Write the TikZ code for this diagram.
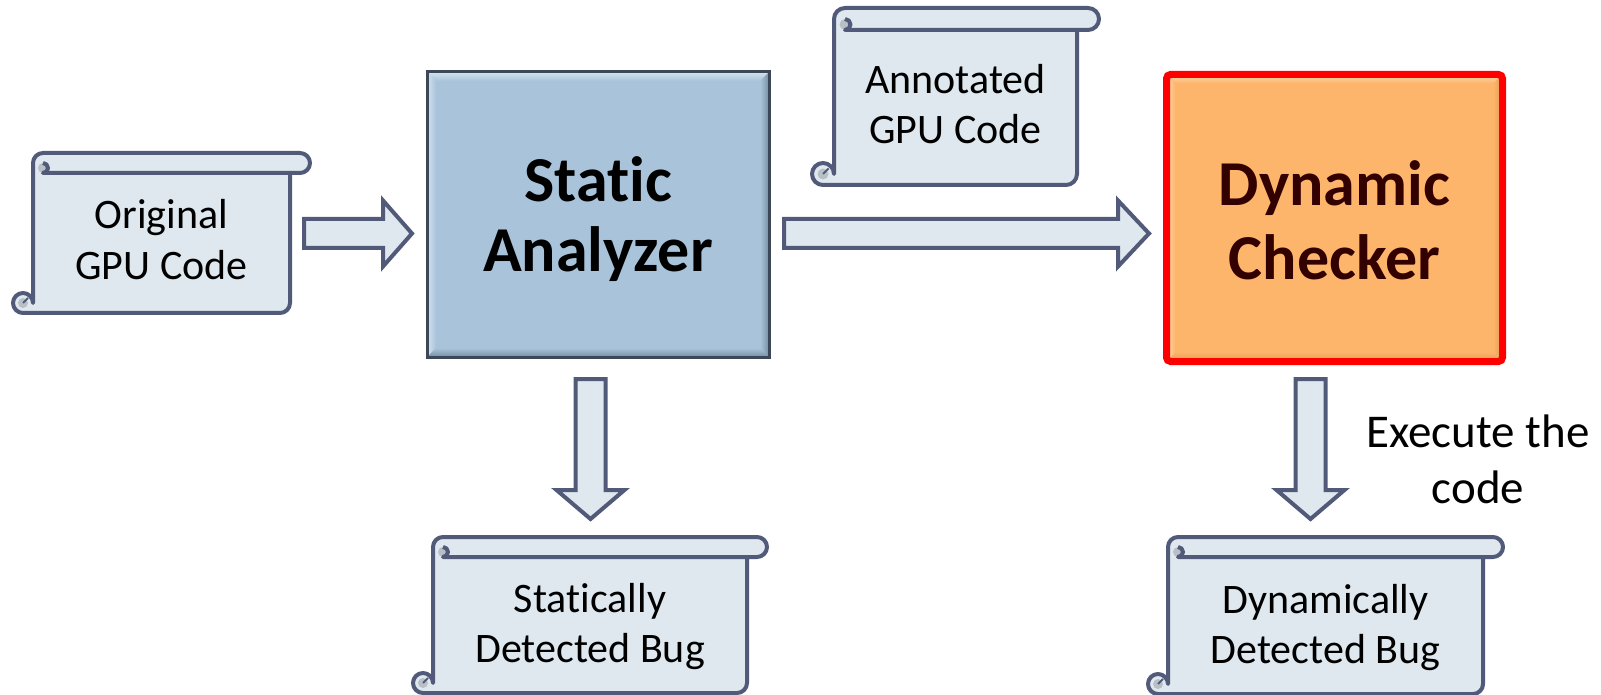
\documentclass[tikz,border=0pt]{standalone}
\usepackage{fontspec}
\setmainfont{Carlito}[Ligatures=NoCommon]
\usetikzlibrary{calc}

\definecolor{scrollfill}{RGB}{222,232,238}
\definecolor{scrollline}{RGB}{82,90,122}
\definecolor{curlgray}{RGB}{184,192,198}
\definecolor{stfill}{RGB}{169,196,218}
\definecolor{stlight}{RGB}{212,226,238}
\definecolor{stdark}{RGB}{118,142,164}
\definecolor{stedge}{RGB}{60,72,88}
\definecolor{dyfill}{RGB}{252,181,107}
\definecolor{dylight}{RGB}{255,214,172}
\definecolor{dydark}{RGB}{226,150,78}
\definecolor{dytext}{RGB}{51,0,0}

% bevelled inner edges of a box node (light top/left, dark right/bottom)
\newcommand\boxbevel[3]{%
  \coordinate (bvNW) at (path picture bounding box.north west);
  \coordinate (bvNE) at (path picture bounding box.north east);
  \coordinate (bvSW) at (path picture bounding box.south west);
  \coordinate (bvSE) at (path picture bounding box.south east);
  \shade[top color=#1,bottom color=#3] (bvNW) -- (bvNE) -- ($(bvNE)+(-4.5pt,-4.5pt)$) -- ($(bvNW)+(4.5pt,-4.5pt)$) -- cycle;
  \shade[left color=#1,right color=#3] (bvNW) -- ($(bvNW)+(4.5pt,-4.5pt)$) -- ($(bvSW)+(4.5pt,4.5pt)$) -- (bvSW) -- cycle;
  \shade[left color=#3,right color=#2] (bvNE) -- ($(bvNE)+(-4.5pt,-4.5pt)$) -- ($(bvSE)+(-4.5pt,4.5pt)$) -- (bvSE) -- cycle;
  \shade[top color=#3,bottom color=#2] (bvSW) -- ($(bvSW)+(4.5pt,4.5pt)$) -- ($(bvSE)+(-4.5pt,4.5pt)$) -- (bvSE) -- cycle;
}

% fixed first-line height and last-line depth, so box text sits predictably
\newcommand\toprule[1]{\rule{0pt}{#1}}
\newcommand\botrule[1]{\rule[-#1]{0pt}{0pt}}

% horizontal scroll: left, top, right, bottom, curl size
\newcommand\scrollsheet[5]{%
  \pgfmathsetmacro\scL{#1}\pgfmathsetmacro\scT{#2}%
  \pgfmathsetmacro\scR{#3}\pgfmathsetmacro\scB{#4}%
  \pgfmathsetmacro\scC{#5}\pgfmathsetmacro\scH{#5/2}\pgfmathsetmacro\scQ{#5/4}%
  \pgfmathsetmacro\scBL{#1+#5}\pgfmathsetmacro\scBR{#3-#5}%
  \filldraw[scrollpart]
    (\scBL,{\scT+\scH}) -- (\scBL,{\scB-\scH})
    arc[start angle=0,end angle=-270,radius=\scH]
    -- ({\scBR-\scH},\scB) arc[start angle=90,end angle=0,radius=\scH]
    -- (\scBR,{\scT+\scC}) -- ({\scR-\scH},{\scT+\scC})
    arc[start angle=90,end angle=-90,radius=\scH]
    -- ({\scBL+\scH},\scT) arc[start angle=-90,end angle=-180,radius=\scH] -- cycle;
  \fill[curlgray] ({\scBL+\scH},{\scT+\scH+\scQ}) circle[radius=\scQ];
  \draw[scrollpart,fill=none] ({\scBL+\scH},{\scT+\scH})
    arc[start angle=-90,end angle=90,radius=\scQ] -- (\scBR,{\scT+\scC});
  \fill[curlgray] ({\scL+\scH},{\scB-\scH}) circle[radius=\scQ];
  \draw[scrollline,line width=1pt] ({\scL+\scH},{\scB-\scH}) -- ({\scL+\scH+\scQ},{\scB-\scH-\scQ});
}

% block arrows
\newcommand\rightblock[6]{% start x, head base x, tip x, centre y, shaft half, head half
  \filldraw[blockarrow] (#1,{#4-#5}) -- (#2,{#4-#5}) -- (#2,{#4-#6}) -- (#3,#4)
    -- (#2,{#4+#6}) -- (#2,{#4+#5}) -- (#1,{#4+#5}) -- cycle;}
\newcommand\downblock[6]{% centre x, start y, head base y, tip y, shaft half, head half
  \filldraw[blockarrow] ({#1-#5},#2) -- ({#1-#5},#3) -- ({#1-#6},#3) -- (#1,#4)
    -- ({#1+#6},#3) -- ({#1+#5},#3) -- ({#1+#5},#2) -- cycle;}

\tikzset{
  scrollpart/.style={draw=scrollline,fill=scrollfill,line width=2pt,line join=round},
  blockarrow/.style={draw=scrollline,fill=scrollfill,line width=2pt},
  scrolltext/.style={align=center,anchor=base,inner sep=0pt,
    font=\fontsize{21}{25}\selectfont},
  exectext/.style={align=center,anchor=base,inner sep=0pt,
    font=\fontsize{23.5}{28}\selectfont},
  statbox/.style={minimum width=171pt,minimum height=142.5pt,inner sep=0pt,
    fill=stfill,draw=stedge,line width=1.5pt,align=center,
    font=\fontsize{32}{35}\selectfont\bfseries,
    path picture={\boxbevel{stlight}{stdark}{stfill}}},
  dynbox/.style={minimum width=168pt,minimum height=143.5pt,inner sep=0pt,
    fill=dyfill,draw=red,line width=3.5pt,rounded corners=2pt,align=center,
    text=dytext,font=\fontsize{32}{37}\selectfont\bfseries,
    path picture={\boxbevel{dylight}{dydark}{dyfill}}},
}

\begin{document}
\begin{tikzpicture}[x=0.5pt,y=-0.5pt]
\useasboundingbox (0,0) rectangle (1601,695);

% scrolls
\scrollsheet{13}{153}{310}{313}{20}
\scrollsheet{812}{8}{1099}{185}{22}
\scrollsheet{413}{537}{767}{693}{20}
\scrollsheet{1148}{537}{1503}{694}{20}

\node[scrolltext] (orig) at (161.5,279) {Original\\GPU Code};
\node[scrolltext] (annot) at (955.5,144) {Annotated\\GPU Code};
\node[scrolltext] (sbug) at (590,662) {Statically\\Detected Bug};
\node[scrolltext] (dbug) at (1325.5,663) {Dynamically\\Detected Bug};

% analysis stages
\node[statbox] (static) at (598,214.5) {\toprule{30pt}Static\\Analyzer\botrule{8pt}};
\node[dynbox] (dynamic) at (1334.5,218) {\toprule{30pt}Dynamic\\Checker\botrule{5.5pt}};

% flow arrows
\rightblock{304}{383}{412}{233.5}{14.5}{33}
\rightblock{784}{1118}{1149}{233.5}{14.5}{33}
\downblock{590.5}{379}{490}{519}{15}{34}
\downblock{1310.5}{379}{490}{519}{15}{34}

\node[exectext] (exec) at (1478,503) {Execute the\\code};
\end{tikzpicture}
\end{document}
